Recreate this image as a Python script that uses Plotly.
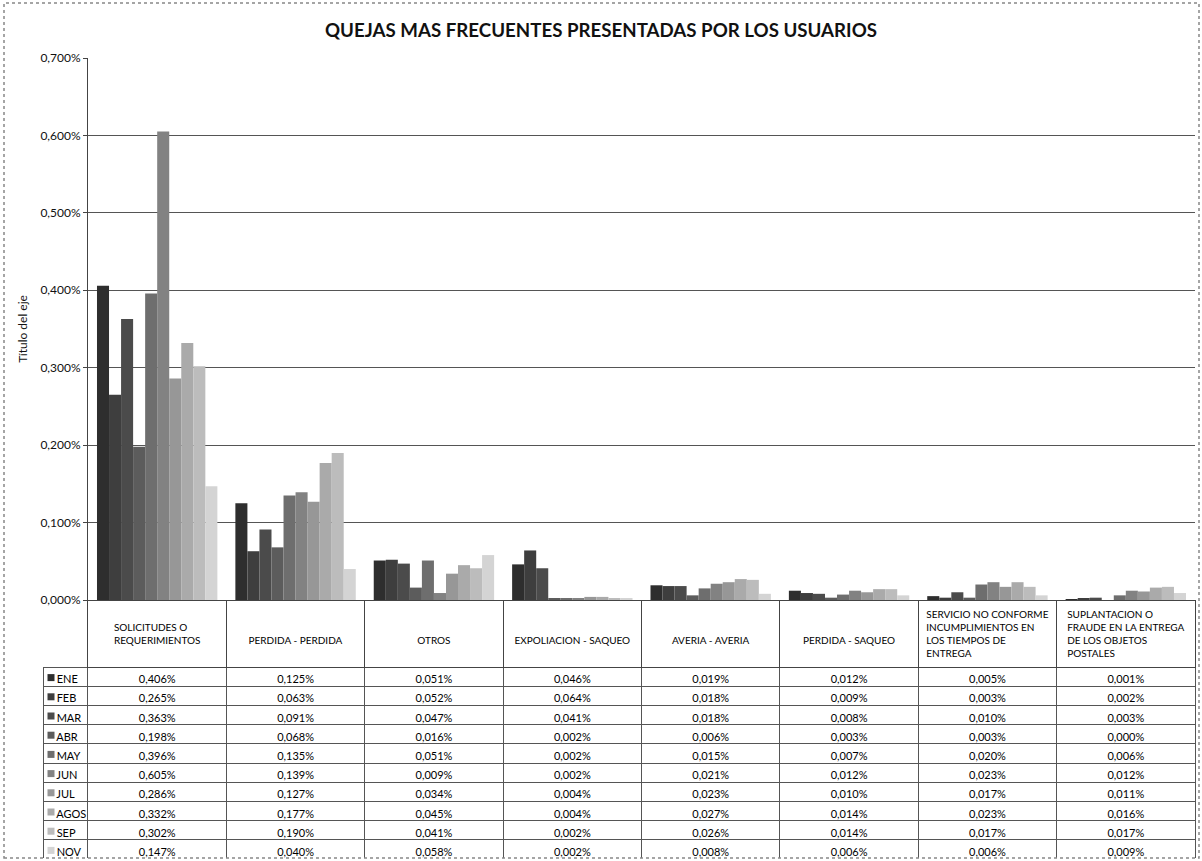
import plotly.graph_objects as go

categories = [
    "SOLICITUDES O<br>REQUERIMIENTOS",
    "PERDIDA - PERDIDA",
    "OTROS",
    "EXPOLIACION - SAQUEO",
    "AVERIA - AVERIA",
    "PERDIDA - SAQUEO",
    "SERVICIO NO CONFORME<br>INCUMPLIMIENTOS EN<br>LOS TIEMPOS DE<br>ENTREGA",
    "SUPLANTACION O<br>FRAUDE EN LA ENTREGA<br>DE LOS OBJETOS<br>POSTALES",
]
months = ["ENE", "FEB", "MAR", "ABR", "MAY", "JUN", "JUL", "AGOS", "SEP", "NOV"]

# values in percent (as shown in the table)
ENE = [0.406, 0.125, 0.051, 0.046, 0.019, 0.012, 0.005, 0.001]
FEB = [0.265, 0.063, 0.052, 0.064, 0.018, 0.009, 0.003, 0.002]
MAR = [0.363, 0.091, 0.047, 0.041, 0.018, 0.008, 0.010, 0.003]
ABR = [0.198, 0.068, 0.016, 0.002, 0.006, 0.003, 0.003, 0.000]
MAY = [0.396, 0.135, 0.051, 0.002, 0.015, 0.007, 0.020, 0.006]
JUN = [0.605, 0.139, 0.009, 0.002, 0.021, 0.012, 0.023, 0.012]
JUL = [0.286, 0.127, 0.034, 0.004, 0.023, 0.010, 0.017, 0.011]
AGOS = [0.332, 0.177, 0.045, 0.004, 0.027, 0.014, 0.023, 0.016]
SEP = [0.302, 0.190, 0.041, 0.002, 0.026, 0.014, 0.017, 0.017]
NOV = [0.147, 0.040, 0.058, 0.002, 0.008, 0.006, 0.006, 0.009]

series = [ENE, FEB, MAR, ABR, MAY, JUN, JUL, AGOS, SEP, NOV]
colors = ["#2e2e2e", "#3e3e3e", "#4b4b4b", "#5c5c5c", "#6e6e6e",
          "#828282", "#979797", "#aaaaaa", "#bcbcbc", "#d4d4d4"]

W, H = 1202, 861
def px_x(v):
    return v / W
def px_y(v):
    return 1 - v / H

fig = go.Figure()
for m, vals, c in zip(months, series, colors):
    fig.add_trace(go.Bar(
        x=categories, y=[v / 100 for v in vals], name=m,
        marker=dict(color=c, line=dict(width=0)),
        showlegend=False,
    ))

# header labels vertically centred in a 4-line header cell
def centred(label):
    n = label.count("<br>") + 1
    pad = (4 - n + 1) // 2
    return "\u00a0<br>" * pad + label

legend_col = ["\u00a0\u00a0" + m for m in months]
cell_cols = [legend_col]
for j in range(len(categories)):
    cell_cols.append([("%.3f%%" % s[j]).replace(".", ",") for s in series])

clear = "rgba(0,0,0,0)"
fig.add_trace(go.Table(
    domain=dict(x=[px_x(43), px_x(1195)], y=[px_y(858), px_y(600)]),
    columnwidth=[45] + [138.4] * 8,
    header=dict(
        values=[""] + [centred(c) for c in categories],
        height=66,
        align="center",
        fill=dict(color=[clear] + ["white"] * 8),
        line=dict(color=[clear] + ["#444444"] * 8, width=1),
        font=dict(family="Lato", size=10, color="#000000"),
    ),
    cells=dict(
        values=cell_cols,
        height=19.2,
        align=["left"] + ["center"] * 8,
        fill=dict(color=[clear] + ["white"] * 8),
        line=dict(color="#555555", width=1),
        font=dict(family="Lato", size=11, color="#000000"),
    ),
))

# legend swatches in the table's first column
fig.add_trace(go.Scatter(
    x=[0] * len(months), y=months, mode="markers",
    marker=dict(symbol="square", size=7, color=colors, line=dict(width=0)),
    xaxis="x2", yaxis="y2", showlegend=False, hoverinfo="skip",
))

fig.update_layout(
    width=W, height=H,
    margin=dict(l=0, r=0, t=0, b=0, pad=0),
    paper_bgcolor="white", plot_bgcolor="white",
    barmode="group", bargap=0.13, bargroupgap=0,
    separators=",.",
    font=dict(family="Lato", color="#111111"),
    title=dict(text="<b>QUEJAS MAS FRECUENTES PRESENTADAS POR LOS USUARIOS</b>",
               x=0.5, xanchor="center", y=px_y(30), yanchor="middle",
               font=dict(family="Lato", size=18.7, color="#111111")),
    xaxis=dict(domain=[px_x(88), px_x(1195)], showticklabels=False,
               showline=True, linecolor="#222222", linewidth=1, ticks="",
               automargin=False),
    yaxis=dict(domain=[px_y(600), px_y(58)], range=[0, 0.007],
               tickformat=".3%", dtick=0.001, automargin=False,
               tickfont=dict(family="Lato", size=12, color="#111111"),
               showgrid=True, gridcolor="#555555", gridwidth=1,
               showline=True, linecolor="#444444", linewidth=1,
               ticks="outside", ticklen=4, tickcolor="#444444",
               zeroline=False,
               title=dict(text="Título del eje", standoff=10,
                          font=dict(family="Lato", size=12, color="#111111"))),
    xaxis2=dict(domain=[px_x(46), px_x(56)], range=[-1, 1], visible=False,
                fixedrange=True, automargin=False, anchor="y2"),
    yaxis2=dict(domain=[px_y(860), px_y(668)], type="category",
                categoryarray=months, categoryorder="array",
                range=[len(months) - 0.5, -0.5], visible=False, fixedrange=True,
                anchor="x2", automargin=False),
    shapes=[dict(type="rect", xref="paper", yref="paper",
                 x0=px_x(4), x1=px_x(1199), y0=px_y(858), y1=px_y(3),
                 line=dict(color="#888888", width=1.5, dash="dot"))],
)

fig.write_html("out.html")
